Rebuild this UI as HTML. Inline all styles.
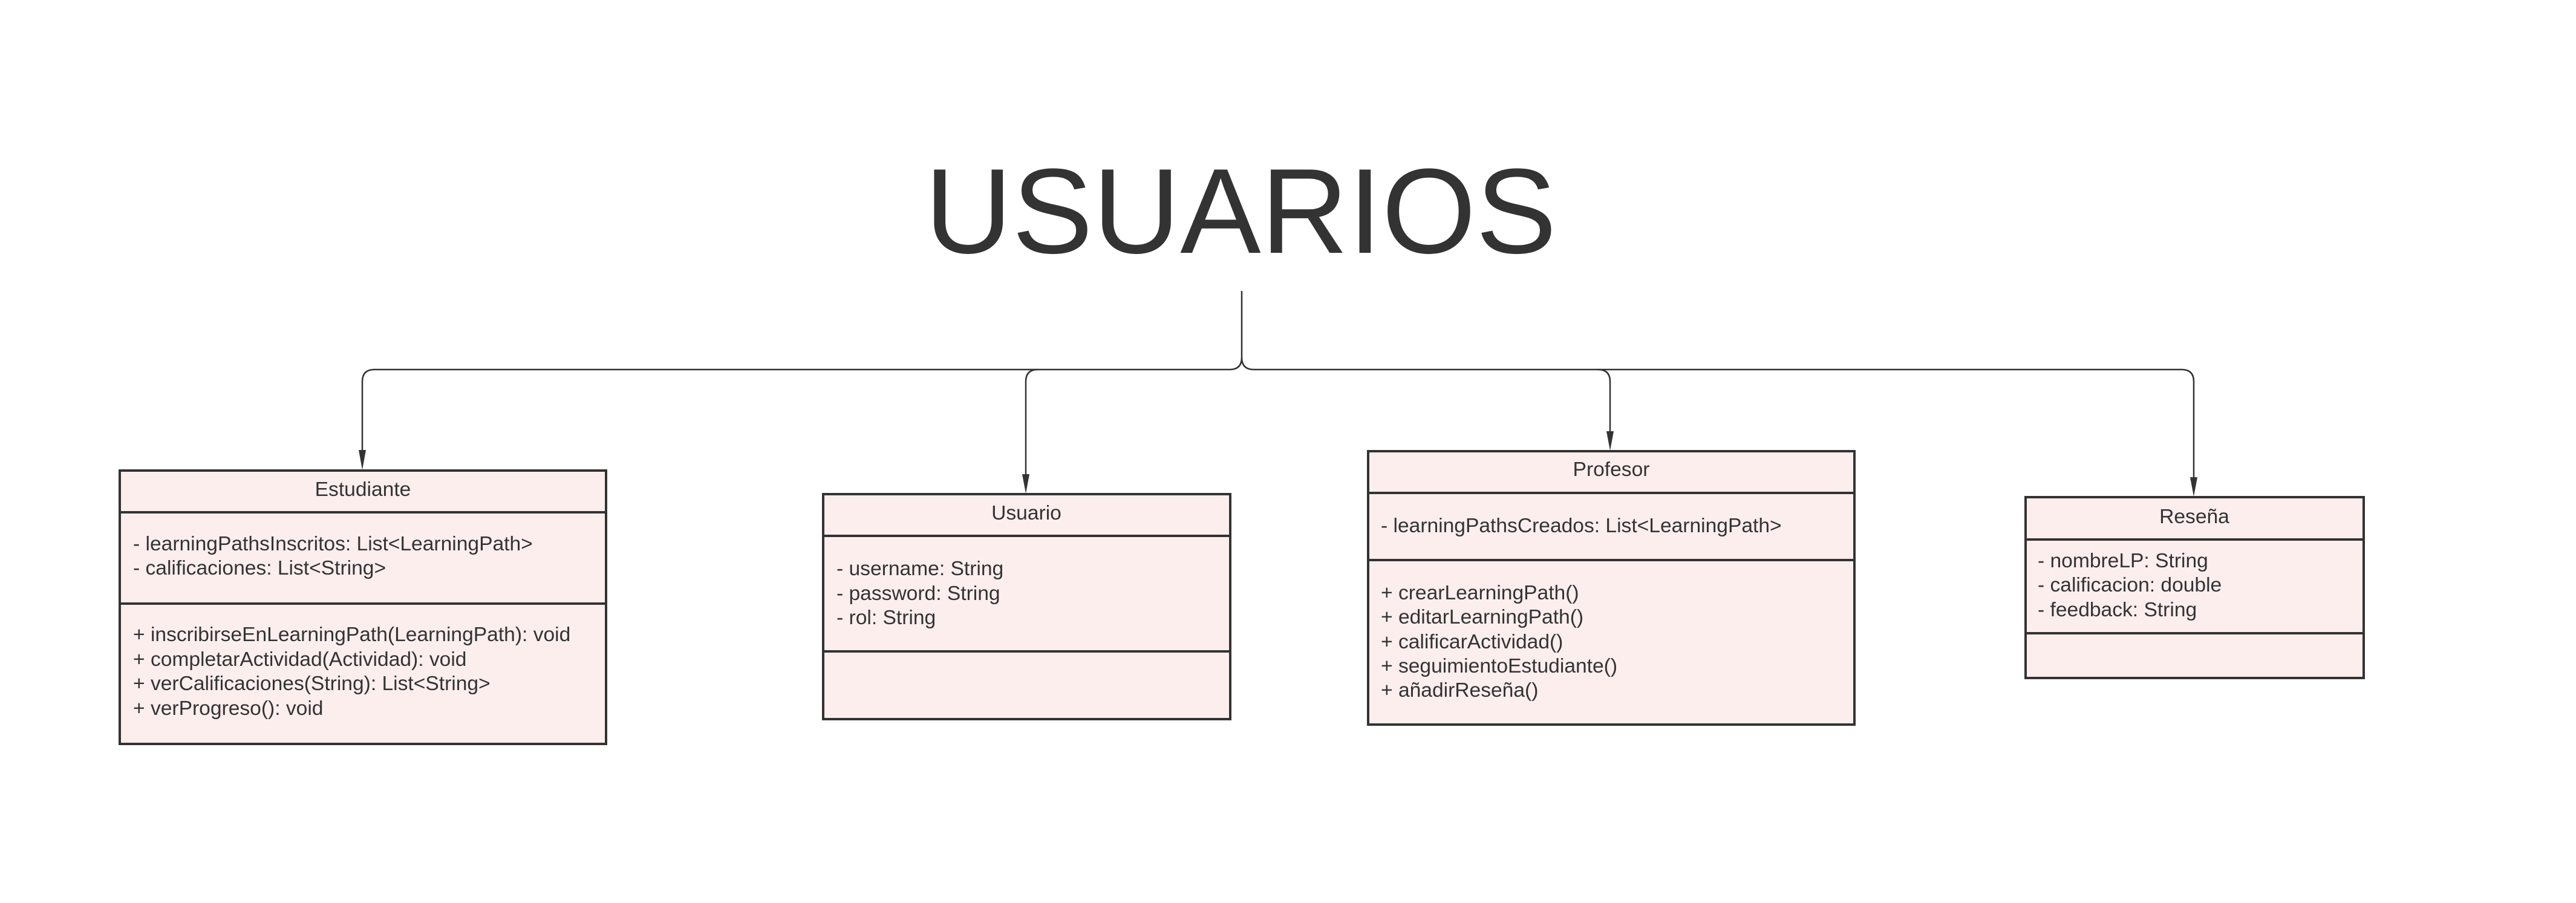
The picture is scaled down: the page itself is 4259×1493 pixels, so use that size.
<!DOCTYPE html>
<html><head><meta charset="utf-8"><style>
html,body{margin:0;padding:0;background:#fff;}
svg{display:block;}
text{font-family:"Liberation Sans",Arial,sans-serif;fill:#333;}
</style></head><body>
<svg width="4259" height="1493" viewBox="0 0 4259 1493" xmlns="http://www.w3.org/2000/svg">
<rect width="4259" height="1493" fill="#fff"/>
<text x="1529" y="418" font-size="200">USUARIOS</text>
<g fill="none" stroke="#333" stroke-width="2.5">
<path d="M2053,481 L2053,591 Q2053,611 2033,611 L1716,611 Q1696,611 1696,631 L1696,790"/>
<path d="M1716,611 L619,611 Q599,611 599,631 L599,750"/>
<path d="M2053,591 Q2053,611 2073,611 L2642,611 Q2662,611 2662,631 L2662,720"/>
<path d="M2642,611 L3607,611 Q3627,611 3627,631 L3627,795"/>
</g>
<g fill="#333">
<polygon points="593,744 605,744 599,777"/>
<polygon points="1690,784 1702,784 1696,816"/>
<polygon points="2656,713 2668,713 2662,745"/>
<polygon points="3621,789 3633,789 3627,821"/>
</g>
<g fill="#fdeeee" stroke="#333" stroke-width="4">
<rect x="198" y="778" width="804" height="452"/>
<rect x="1361" y="817" width="673" height="372"/>
<rect x="2262" y="746" width="804" height="452"/>
<rect x="3349" y="822" width="559" height="299"/>
</g>
<g stroke="#333" stroke-width="4">
<line x1="198" y1="847" x2="1002" y2="847"/><line x1="198" y1="998" x2="1002" y2="998"/>
<line x1="1361" y1="886" x2="2034" y2="886"/><line x1="1361" y1="1077" x2="2034" y2="1077"/>
<line x1="2262" y1="815" x2="3066" y2="815"/><line x1="2262" y1="926" x2="3066" y2="926"/>
<line x1="3349" y1="892" x2="3908" y2="892"/><line x1="3349" y1="1047" x2="3908" y2="1047"/>
</g>
<g font-size="33.6">
<text x="600" y="820" text-anchor="middle">Estudiante</text>
<text x="220" y="910">- learningPathsInscritos: List&lt;LearningPath&gt;</text>
<text x="220" y="950">- calificaciones: List&lt;String&gt;</text>
<text x="220" y="1060">+ inscribirseEnLearningPath(LearningPath): void</text>
<text x="220" y="1101">+ completarActividad(Actividad): void</text>
<text x="220" y="1141">+ verCalificaciones(String): List&lt;String&gt;</text>
<text x="220" y="1182">+ verProgreso(): void</text>
<text x="1697" y="859" text-anchor="middle">Usuario</text>
<text x="1383" y="951">- username: String</text>
<text x="1383" y="992">- password: String</text>
<text x="1383" y="1032">- rol: String</text>
<text x="2664" y="787" text-anchor="middle">Profesor</text>
<text x="2283" y="880">- learningPathsCreados: List&lt;LearningPath&gt;</text>
<text x="2283" y="991">+ crearLearningPath()</text>
<text x="2283" y="1031">+ editarLearningPath()</text>
<text x="2283" y="1072">+ calificarActividad()</text>
<text x="2283" y="1112">+ seguimientoEstudiante()</text>
<text x="2283" y="1152">+ añadirReseña()</text>
<text x="3628" y="865" text-anchor="middle">Reseña</text>
<text x="3369" y="938">- nombreLP: String</text>
<text x="3369" y="978">- calificacion: double</text>
<text x="3369" y="1019">- feedback: String</text>
</g>
</svg>
</body></html>
